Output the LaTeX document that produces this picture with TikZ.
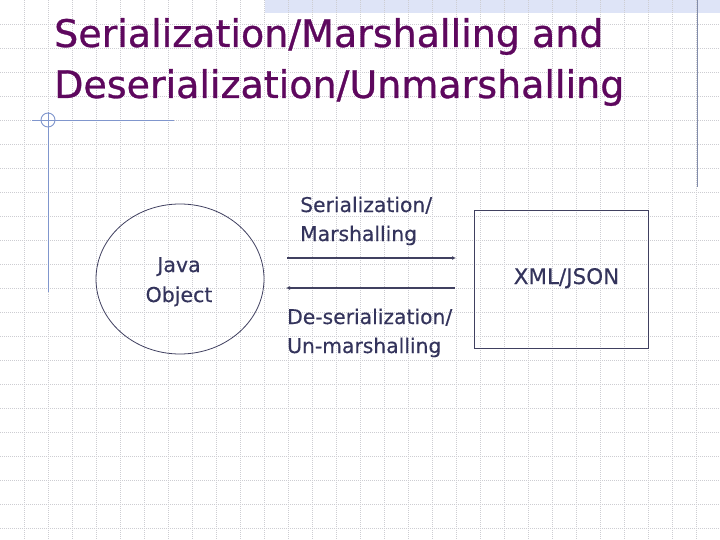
\documentclass[tikz,border=0pt]{standalone}
\usepackage{fontspec}
\setmainfont{DejaVu Sans}
\newfontfamily\titlefont{DejaVu Sans}[FakeBold=0.8]
\newfontfamily\lblfont{DejaVu Sans}[FakeBold=0.3]
\usetikzlibrary{arrows.meta,shapes.geometric}
\definecolor{titlecol}{RGB}{94,8,94}
\definecolor{txtcol}{RGB}{52,52,92}
\definecolor{linecol}{RGB}{64,64,96}
\definecolor{gridcol}{RGB}{205,205,210}
\definecolor{bandcol}{RGB}{222,228,247}
\definecolor{decocol}{RGB}{128,150,205}
\definecolor{rulecol}{RGB}{130,140,170}
\tikzset{
  gridline/.style={gridcol, line width=0.7pt, dash pattern=on 1pt off 1pt},
  titletxt/.style={anchor=base west, inner sep=0pt, text=titlecol, font=\titlefont\fontsize{38}{46}\selectfont},
  lbl/.style={anchor=base west, inner sep=0pt, text=txtcol, font=\lblfont\fontsize{20.3}{30}\selectfont},
  conn/.style={linecol, line width=1.8pt, -{Latex[length=4pt,width=4pt]}},
  deco/.style={decocol, line width=0.9pt}
}
\begin{document}
\begin{tikzpicture}[x=1pt,y=-1pt]
\useasboundingbox (0,0) rectangle (720,540);
\fill[white] (0,0) rectangle (720,540);
% band
\fill[bandcol] (265,0) rectangle (720,13);
% grid
\foreach \i in {1,...,29} \draw[gridline] (\i*24,0) -- (\i*24,540);
\foreach \j in {1,...,22} \draw[gridline] (0,\j*24) -- (720,\j*24);
% decorations
\draw[rulecol, line width=0.9pt] (697,0) -- (697,187);
\draw[deco] (32,120) -- (174,120);
\draw[deco] (48,112) -- (48,292);
\draw[deco] (48,120) circle[radius=7];
% title
\node[titletxt] (t1) at (54,47) {Serialization/Marshalling and};
\node[titletxt] (t2) at (54,98) {Deserialization/Unmarshalling};
% java object
\node[draw=linecol, line width=0.8pt, ellipse, minimum width=168pt, minimum height=150pt, inner sep=0pt] (obj) at (180,279) {};
\node[text=txtcol, font=\lblfont\fontsize{20.5}{30}\selectfont, inner sep=0pt, anchor=base] (jv1) at (179,272) {Java};
\node[text=txtcol, font=\lblfont\fontsize{20.5}{30}\selectfont, inner sep=0pt, anchor=base] (jv2) at (179,302) {Object};
% xml box
\node[draw=linecol, line width=1pt, rectangle, minimum width=174.5pt, minimum height=137pt, inner sep=0pt] (box) at (561.5,279.5) {};
\node[text=txtcol, font=\lblfont\fontsize{21.5}{30}\selectfont, inner sep=0pt, anchor=base] (xj) at (566.5,284) {XML/JSON};
% labels
\node[lbl] (ser1) at (300,212) {Serialization/};
\node[lbl] (ser2) at (300,241) {Marshalling};
\node[lbl] (des1) at (287,324) {De-serialization/};
\node[lbl] (des2) at (287,353) {Un-marshalling};
% arrows
\coordinate (a1s) at (287,258);
\coordinate (a1e) at (456,258);
\coordinate (a2s) at (455,288);
\coordinate (a2e) at (286,288);
\draw[conn] (a1s) -- (a1e);
\draw[conn] (a2s) -- (a2e);
\end{tikzpicture}
\end{document}
